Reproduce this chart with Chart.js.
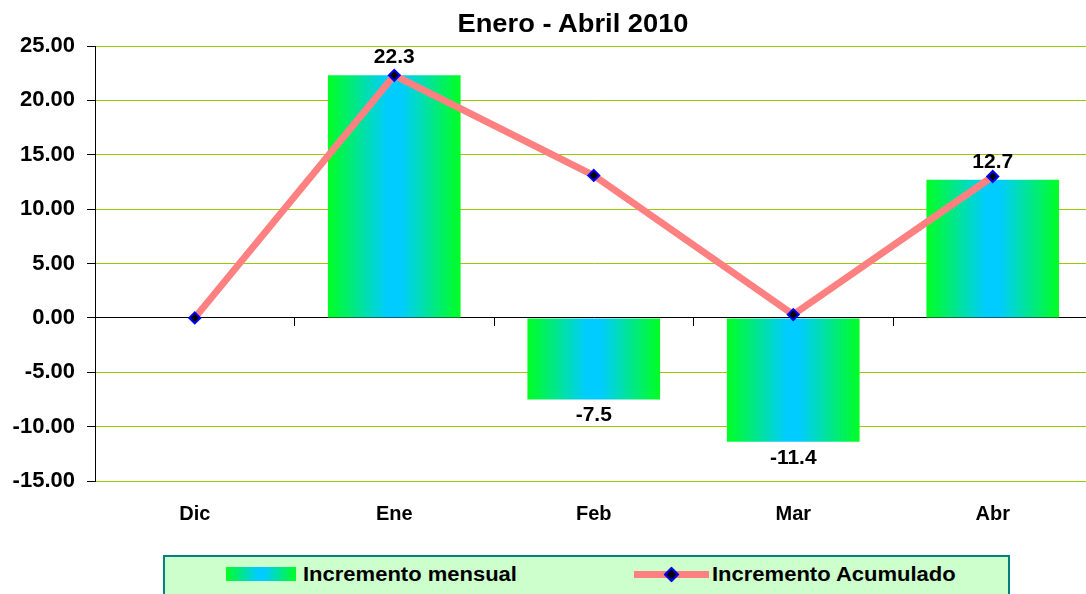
<!DOCTYPE html>
<html>
<head>
<meta charset="utf-8">
<script src="https://cdn.jsdelivr.net/npm/chart.js@4/dist/chart.umd.min.js"></script>
<style>
  html, body { margin: 0; padding: 0; background: #fff; overflow: hidden; width: 1086px; height: 594px; }
  #wrap { position: absolute; left: 0; top: 0; width: 1100px; height: 594px; }
  .txt { font-family: "Liberation Sans", Arial, sans-serif; font-weight: bold; color: #000; white-space: nowrap; position: absolute; }
  #title { left: 573px; top: 10px; font-size: 26px; line-height: 26px; transform: translateX(-50%) scaleX(1.05); }
  #legend { position: absolute; left: 163px; top: 555px; width: 847px; height: 60px; background: #CCFFCC; border: 2px solid #008080; box-sizing: border-box; }
  .lab { font-size: 20px; line-height: 20px; transform-origin: left center; transform: scaleX(1.1); }
  #sw1 { position: absolute; left: 226px; top: 567px; width: 70px; height: 14px;
         background: linear-gradient(to right, #00ff22 0%, #00ccff 45%, #00ccff 55%, #00ff22 100%); }
  #sw2 { position: absolute; left: 634px; top: 571px; width: 75px; height: 7px; background: #ff8080; }
  #sw2d { position: absolute; left: 666px; top: 569px; width: 7px; height: 7px; background: #000; border: 2px solid #0000ff; transform: rotate(45deg); }
</style>
</head>
<body>
<div id="wrap"><canvas id="c" width="1100" height="594"></canvas></div>
<div id="title" class="txt">Enero - Abril 2010</div>
<div id="legend"></div>
<div id="sw1"></div>
<div class="txt lab" style="left:303px; top:564px;">Incremento mensual</div>
<div id="sw2"></div>
<div id="sw2d"></div>
<div class="txt lab" style="left:712px; top:564px;">Incremento Acumulado</div>
<script>
const categories = ["Dic", "Ene", "Feb", "Mar", "Abr"];
const monthlyIncrease = [null, 22.3, -7.5, -11.4, 12.7];
const cumulativeIncrease = [0, 22.3, 13.1, 0.3, 13.0];
const yTicks = [-15, -10, -5, 0, 5, 10, 15, 20, 25];
const seriesNames = ["Incremento mensual", "Incremento Acumulado"];

const FONT = '"Liberation Sans", Arial, sans-serif';
const BAR_FRACTION = 0.665;
const BAR_DATASET = 1;

function barGradient(ctx) {
  const chart = ctx.chart;
  const xs = chart.scales && chart.scales.x;
  if (!chart.chartArea || !xs || ctx.dataIndex === undefined) return '#00ccff';
  const cx = xs.getPixelForValue(ctx.dataIndex);
  const half = (xs.width / categories.length) * BAR_FRACTION / 2;
  const g = chart.ctx.createLinearGradient(cx - half, 0, cx + half, 0);
  g.addColorStop(0, '#00ff22');
  g.addColorStop(0.45, '#00ccff');
  g.addColorStop(0.55, '#00ccff');
  g.addColorStop(1, '#00ff22');
  return g;
}

const valueLabels = {
  id: 'valueLabels',
  afterDatasetsDraw(chart) {
    const meta = chart.getDatasetMeta(BAR_DATASET);
    const c = chart.ctx;
    c.save();
    c.font = 'bold 21px ' + FONT;
    c.fillStyle = '#000';
    c.textAlign = 'center';
    c.textBaseline = 'middle';
    meta.data.forEach((el, i) => {
      const v = monthlyIncrease[i];
      if (v === null || v === undefined) return;
      const y = v >= 0 ? el.y - 18 : el.y + 16;
      c.fillText(v.toFixed(1), el.x, y);
    });
    c.restore();
  }
};

new Chart(document.getElementById('c'), {
  type: 'bar',
  data: {
    labels: categories,
    datasets: [
      {
        type: 'line',
        label: seriesNames[1],
        data: cumulativeIncrease,
        xAxisID: 'x',
        borderColor: '#ff8080',
        borderWidth: 7,
        tension: 0,
        pointStyle: 'rectRot',
        pointRadius: 5.5,
        pointBackgroundColor: '#000000',
        pointBorderColor: '#0000ff',
        pointBorderWidth: 2,
        order: 0
      },
      {
        type: 'bar',
        label: seriesNames[0],
        data: monthlyIncrease,
        xAxisID: 'x',
        backgroundColor: barGradient,
        borderWidth: 0,
        categoryPercentage: 1,
        barPercentage: BAR_FRACTION,
        order: 1
      }
    ]
  },
  options: {
    responsive: false,
    animation: false,
    devicePixelRatio: 1,
    layout: { padding: { left: 0, right: 5, top: 46, bottom: 73 } },
    plugins: {
      legend: { display: false },
      title: { display: false },
      tooltip: { enabled: false }
    },
    scales: {
      y: {
        min: -15,
        max: 25,
        afterBuildTicks(scale) { scale.ticks = yTicks.map(v => ({ value: v })); },
        afterFit(scale) { scale.width = 95; },
        border: { display: true, color: '#000000', width: 1 },
        grid: {
          color: (ctx) => (ctx.tick && ctx.tick.value === 0) ? '#000000' : '#99cc00',
          lineWidth: 1,
          tickColor: '#000000',
          tickLength: 8,
          drawTicks: true
        },
        ticks: {
          padding: 12,
          color: '#000',
          font: { family: FONT, size: 22, weight: 'bold' },
          callback: (v) => Number(v).toFixed(2)
        }
      },
      x: {
        type: 'category',
        position: 'bottom',
        offset: true,
        afterFit(scale) { scale.height = 40; },
        border: { display: false },
        grid: { display: false, drawTicks: false },
        ticks: {
          padding: 21,
          color: '#000',
          font: { family: FONT, size: 20, weight: 'bold' }
        }
      },
      x2: {
        type: 'category',
        position: { y: 0 },
        offset: true,
        border: { display: false },
        grid: {
          display: true,
          offset: true,
          drawOnChartArea: false,
          drawTicks: true,
          tickLength: 8,
          tickColor: '#000000',
          color: '#000000'
        },
        ticks: { display: false }
      }
    }
  },
  plugins: [valueLabels]
});
</script>
</body>
</html>
